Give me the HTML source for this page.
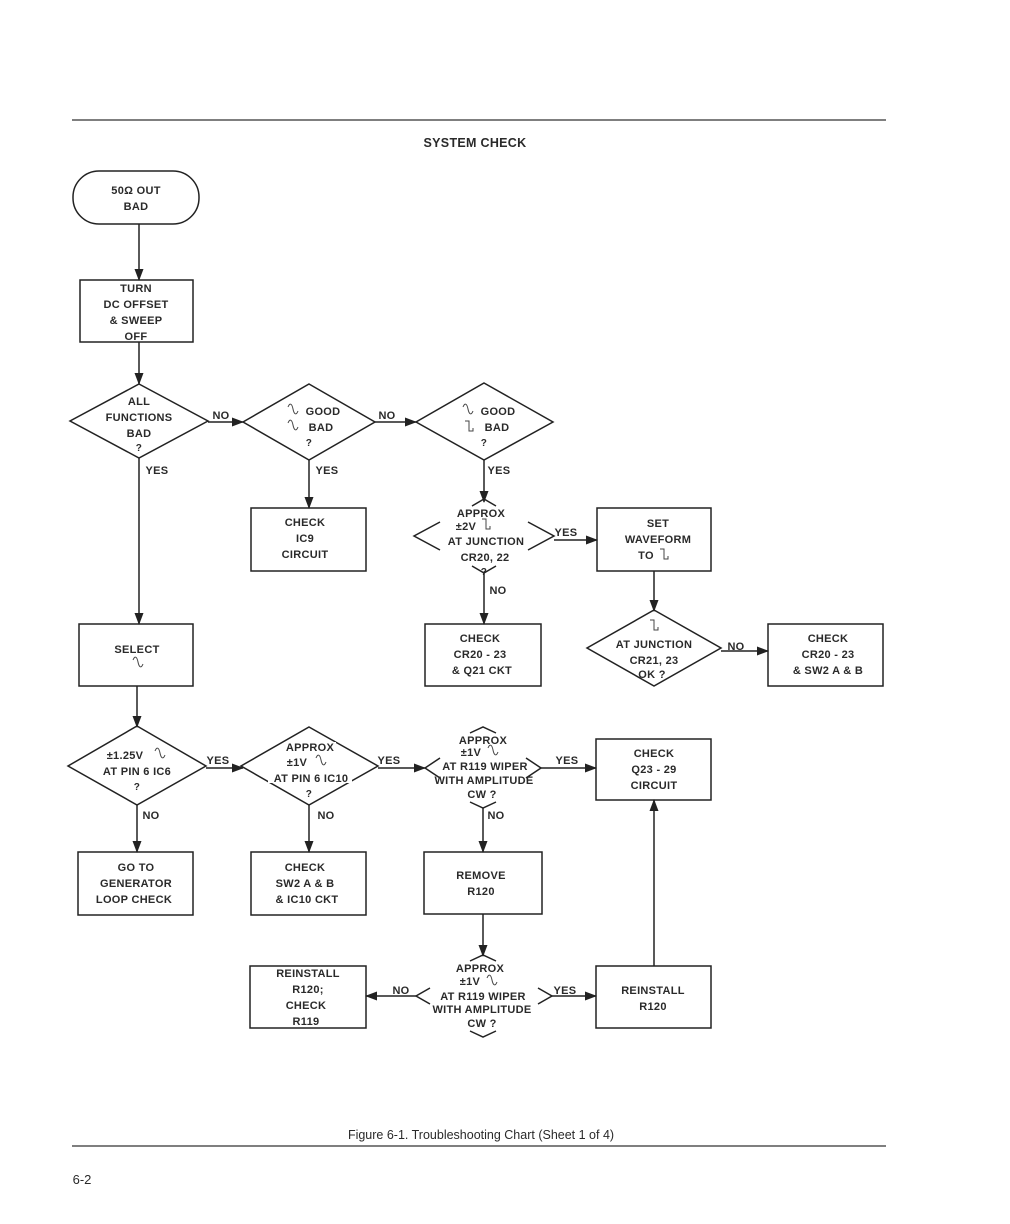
<!DOCTYPE html>
<html><head><meta charset="utf-8"><style>
html,body{margin:0;padding:0;background:#fff;}
svg{display:block;}
text{font-family:"Liberation Sans",sans-serif;font-size:11px;font-weight:bold;fill:#2a2a2a;text-anchor:middle;letter-spacing:0.3px;}
.l{stroke:#222;stroke-width:1.5;fill:none;}
.w{fill:#fff;stroke:none;}
</style></head><body>
<svg width="1010" height="1224" viewBox="0 0 1010 1224" xmlns="http://www.w3.org/2000/svg">
<defs>
<marker id="a" markerWidth="12" markerHeight="9" refX="11" refY="4.5" orient="auto" markerUnits="userSpaceOnUse"><path d="M0,0 L12,4.5 L0,9 z" fill="#222"/></marker>
<path id="sn" d="M0,3 C2,-2 4,0 5,5 C6,10 8,12 10,7" stroke="#444" stroke-width="1" fill="none"/>
<path id="sq" d="M0,1 H4 V11 H8 V8" stroke="#444" stroke-width="1" fill="none"/>
</defs>
<line x1="72" y1="120" x2="886" y2="120" stroke="#333" stroke-width="1.2"/>
<text x="475" y="147" style="font-size:12.5px">SYSTEM CHECK</text>

<rect x="73" y="171" width="126" height="53" rx="26" class="l"/>
<text x="136" y="194">50Ω OUT</text><text x="136" y="210">BAD</text>
<line x1="139" y1="224" x2="139" y2="280" class="l" marker-end="url(#a)"/>

<rect x="80" y="280" width="113" height="62" class="l"/>
<text x="136" y="292">TURN</text><text x="136" y="308">DC OFFSET</text><text x="136" y="324">&amp; SWEEP</text><text x="136" y="340">OFF</text>
<line x1="139" y1="342" x2="139" y2="384" class="l" marker-end="url(#a)"/>

<polygon points="139,384 208,421 139,458 70,421" class="l"/>
<text x="139" y="405">ALL</text><text x="139" y="421">FUNCTIONS</text><text x="139" y="437">BAD</text><text x="139" y="451" style="font-size:10px">?</text>
<line x1="208" y1="422" x2="243" y2="422" class="l" marker-end="url(#a)"/>
<text x="221" y="419">NO</text>

<polygon points="309,384 375,422 309,460 243,422" class="l"/>
<use href="#sn" x="288" y="404"/><text x="323" y="415">GOOD</text>
<use href="#sn" x="288" y="420"/><text x="321" y="431">BAD</text>
<text x="309" y="446" style="font-size:10px">?</text>
<line x1="375" y1="422" x2="416" y2="422" class="l" marker-end="url(#a)"/>
<text x="387" y="419">NO</text>

<polygon points="484,383 553,422 484,460 416,422" class="l"/>
<use href="#sn" x="463" y="404"/><text x="498" y="415">GOOD</text>
<use href="#sq" x="465" y="420"/><text x="497" y="431">BAD</text>
<text x="484" y="446" style="font-size:10px">?</text>

<line x1="309" y1="460" x2="309" y2="508" class="l" marker-end="url(#a)"/>
<text x="327" y="474">YES</text>
<rect x="251" y="508" width="115" height="63" class="l"/>
<text x="305" y="526">CHECK</text><text x="305" y="542">IC9</text><text x="305" y="558">CIRCUIT</text>

<line x1="484" y1="460" x2="484" y2="502" class="l" marker-end="url(#a)"/>
<text x="499" y="474">YES</text>

<!-- D4 open -->
<polyline points="472,506 484,499 496,506" class="l"/>
<polyline points="440,522 414,536 440,550" class="l"/>
<polyline points="528,522 554,536 528,550" class="l"/>
<polyline points="472,566 484,573 496,566" class="l"/>
<text x="481" y="517">APPROX</text>
<text x="466" y="530">±2V</text><use href="#sq" x="482" y="518"/>
<text x="486" y="545">AT JUNCTION</text>
<text x="485" y="561">CR20, 22</text>
<text x="484" y="575" style="font-size:10px">?</text>
<line x1="554" y1="540" x2="597" y2="540" class="l" marker-end="url(#a)"/>
<text x="566" y="536">YES</text>
<rect x="597" y="508" width="114" height="63" class="l"/>
<text x="658" y="527">SET</text><text x="658" y="543">WAVEFORM</text><text x="646" y="559">TO</text><use href="#sq" x="660" y="548"/>

<line x1="484" y1="573" x2="484" y2="624" class="l" marker-end="url(#a)"/>
<text x="498" y="594">NO</text>
<rect x="425" y="624" width="116" height="62" class="l"/>
<text x="480" y="642">CHECK</text><text x="480" y="658">CR20 - 23</text><text x="482" y="674">&amp; Q21 CKT</text>

<line x1="654" y1="571" x2="654" y2="611" class="l" marker-end="url(#a)"/>
<polygon points="654,610 721,648 654,686 587,648" class="l"/>
<use href="#sq" x="650" y="619"/>
<rect class="w" x="610" y="637" width="90" height="13"/>
<text x="654" y="648">AT JUNCTION</text><text x="654" y="664">CR21, 23</text><text x="652" y="678">OK ?</text>
<line x1="721" y1="651" x2="768" y2="651" class="l" marker-end="url(#a)"/>
<text x="736" y="650">NO</text>
<rect x="768" y="624" width="115" height="62" class="l"/>
<text x="828" y="642">CHECK</text><text x="828" y="658">CR20 - 23</text><text x="828" y="674">&amp; SW2 A &amp; B</text>

<line x1="139" y1="458" x2="139" y2="624" class="l" marker-end="url(#a)"/>
<text x="157" y="474">YES</text>
<rect x="79" y="624" width="114" height="62" class="l"/>
<text x="137" y="653">SELECT</text><use href="#sn" x="133" y="657"/>
<line x1="137" y1="686" x2="137" y2="727" class="l" marker-end="url(#a)"/>

<polygon points="137,726 206,766 137,805 68,766" class="l"/>
<text x="125" y="759">±1.25V</text><use href="#sn" x="155" y="748"/>
<text x="137" y="775">AT PIN 6 IC6</text><text x="137" y="790" style="font-size:10px">?</text>
<line x1="206" y1="768" x2="243" y2="768" class="l" marker-end="url(#a)"/>
<text x="218" y="764">YES</text>

<polygon points="309,727 378,766 309,805 241,766" class="l"/>
<rect class="w" x="284" y="742" width="52" height="10"/>
<rect class="w" x="268" y="772" width="84" height="11"/>
<text x="310" y="751">APPROX</text>
<text x="297" y="766">±1V</text><use href="#sn" x="316" y="755"/>
<text x="311" y="782">AT PIN 6 IC10</text><text x="309" y="797" style="font-size:10px">?</text>
<line x1="378" y1="768" x2="425" y2="768" class="l" marker-end="url(#a)"/>
<text x="389" y="764">YES</text>

<!-- D8 -->
<polyline points="470,733 483,727 496,733" class="l"/>
<polyline points="440,758 425,768 440,778" class="l"/>
<polyline points="526,758 541,768 526,778" class="l"/>
<polyline points="470,802 483,808 496,802" class="l"/>
<text x="483" y="744">APPROX</text>
<text x="471" y="756">±1V</text><use href="#sn" x="488" y="745"/>
<text x="485" y="770">AT R119 WIPER</text>
<text x="484" y="784">WITH AMPLITUDE</text>
<text x="482" y="798">CW ?</text>
<line x1="541" y1="768" x2="596" y2="768" class="l" marker-end="url(#a)"/>
<text x="567" y="764">YES</text>
<rect x="596" y="739" width="115" height="61" class="l"/>
<text x="654" y="757">CHECK</text><text x="654" y="773">Q23 - 29</text><text x="654" y="789">CIRCUIT</text>

<line x1="137" y1="805" x2="137" y2="852" class="l" marker-end="url(#a)"/>
<text x="151" y="819">NO</text>
<rect x="78" y="852" width="115" height="63" class="l"/>
<text x="136" y="871">GO TO</text><text x="136" y="887">GENERATOR</text><text x="134" y="903">LOOP CHECK</text>

<line x1="309" y1="805" x2="309" y2="852" class="l" marker-end="url(#a)"/>
<text x="326" y="819">NO</text>
<rect x="251" y="852" width="115" height="63" class="l"/>
<text x="305" y="871">CHECK</text><text x="305" y="887">SW2 A &amp; B</text><text x="307" y="903">&amp; IC10 CKT</text>

<line x1="483" y1="808" x2="483" y2="852" class="l" marker-end="url(#a)"/>
<text x="496" y="819">NO</text>
<rect x="424" y="852" width="118" height="62" class="l"/>
<text x="481" y="879">REMOVE</text><text x="481" y="895">R120</text>

<line x1="483" y1="914" x2="483" y2="956" class="l" marker-end="url(#a)"/>
<!-- D9 -->
<polyline points="470,961 483,955 496,961" class="l"/>
<polyline points="430,988 416,996 430,1004" class="l"/>
<polyline points="538,988 552,996 538,1004" class="l"/>
<polyline points="470,1031 483,1037 496,1031" class="l"/>
<text x="480" y="972">APPROX</text>
<text x="470" y="985">±1V</text><use href="#sn" x="487" y="975"/>
<text x="483" y="1000">AT R119 WIPER</text>
<text x="482" y="1013">WITH AMPLITUDE</text>
<text x="482" y="1027">CW ?</text>
<line x1="416" y1="996" x2="366" y2="996" class="l" marker-end="url(#a)"/>
<text x="401" y="994">NO</text>
<line x1="552" y1="996" x2="596" y2="996" class="l" marker-end="url(#a)"/>
<text x="565" y="994">YES</text>
<rect x="250" y="966" width="116" height="62" class="l"/>
<text x="308" y="977">REINSTALL</text><text x="308" y="993">R120;</text><text x="306" y="1009">CHECK</text><text x="306" y="1025">R119</text>
<rect x="596" y="966" width="115" height="62" class="l"/>
<text x="653" y="994">REINSTALL</text><text x="653" y="1010">R120</text>
<line x1="654" y1="966" x2="654" y2="800" class="l" marker-end="url(#a)"/>

<text x="481" y="1139" style="font-size:12.5px;font-weight:normal;letter-spacing:0">Figure 6-1.  Troubleshooting Chart (Sheet 1 of 4)</text>
<line x1="72" y1="1146" x2="886" y2="1146" stroke="#333" stroke-width="1.2"/>
<text x="82" y="1184" style="font-size:13px;font-weight:normal;letter-spacing:0">6-2</text>
</svg>
</body></html>
